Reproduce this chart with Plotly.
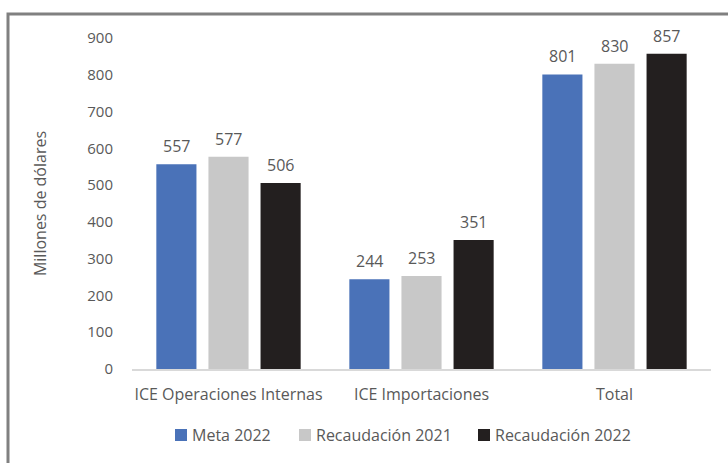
import plotly.graph_objects as go

categories = ["ICE Operaciones Internas", "ICE Importaciones", "Total"]
meta_2022 = [557, 244, 801]
recaudacion_2021 = [577, 253, 830]
recaudacion_2022 = [506, 351, 857]
y_ticks = [0, 100, 200, 300, 400, 500, 600, 700, 800, 900]

font_family = "Open Sans, Liberation Sans, Arial, sans-serif"
text_color = "#595959"

series = [
    ("Meta 2022", meta_2022, "#4a72b8"),
    ("Recaudación 2021", recaudacion_2021, "#c8c8c8"),
    ("Recaudación 2022", recaudacion_2022, "#231f1f"),
]

W, H = 728, 463
ml, mr, mt, mb = 132, 17, 38, 94
pw, ph = W - ml - mr, H - mt - mb

def px_x(p):
    return (p - ml) / pw

def px_y(p):
    return (H - mb - p) / ph

fig = go.Figure()
for name, values, color in series:
    fig.add_trace(go.Bar(
        name=name,
        x=categories,
        y=values,
        marker=dict(color=color, line=dict(width=0)),
        cliponaxis=False,
        showlegend=False,
    ))

# value labels placed above each bar, offset to match the group layout
bargap, bargroupgap = 0.19, 0.23
slot = (1 - bargap) / len(series)
annotations = []
for i, (name, values, color) in enumerate(series):
    offset = -(1 - bargap) / 2 + slot * (i + 0.5)
    for j, v in enumerate(values):
        annotations.append(dict(
            x=j + offset, y=v, xref="x", yref="y",
            text=str(v), showarrow=False,
            yanchor="bottom", yshift=5,
            font=dict(size=16, color=text_color, family=font_family),
        ))

# legend row: square swatch followed by the series name
legend_x = [175, 299, 478]
legend_y = px_y(435)
shapes = []
for (name, values, color), lx in zip(series, legend_x):
    shapes.append(dict(
        type="rect", xref="paper", yref="paper",
        x0=px_x(lx), x1=px_x(lx + 12),
        y0=px_y(441), y1=px_y(429),
        fillcolor=color, line=dict(width=0),
    ))
    annotations.append(dict(
        x=px_x(lx + 15), y=legend_y, xref="paper", yref="paper",
        text=name, showarrow=False, xanchor="left", yanchor="middle",
        font=dict(size=16, color=text_color, family=font_family),
    ))

# outer chart frame
shapes.append(dict(
    type="rect",
    xref="paper", yref="paper",
    x0=px_x(8), x1=px_x(735),
    y0=px_y(475), y1=px_y(14),
    line=dict(color="#808080", width=3),
    fillcolor="rgba(0,0,0,0)",
    layer="below",
))

fig.update_layout(
    width=W,
    height=H,
    margin=dict(l=ml, r=mr, t=mt, b=mb, pad=0),
    paper_bgcolor="white",
    plot_bgcolor="white",
    barmode="group",
    bargap=bargap,
    bargroupgap=bargroupgap,
    font=dict(family=font_family, size=16, color=text_color),
    showlegend=False,
    xaxis=dict(
        showline=True,
        linecolor="#d9d9d9",
        linewidth=1.5,
        ticks="",
        showgrid=False,
        ticklabelstandoff=10,
        tickfont=dict(size=16, color=text_color),
    ),
    yaxis=dict(
        range=[0, 900],
        tickvals=y_ticks,
        showgrid=False,
        zeroline=False,
        showline=False,
        ticks="",
        ticklabelstandoff=18,
        tickfont=dict(size=15, color=text_color),
        title=dict(text="Millones de dólares", standoff=36,
                   font=dict(size=16, color=text_color)),
    ),
    annotations=annotations,
    shapes=shapes,
)

fig.write_html("out.html")
